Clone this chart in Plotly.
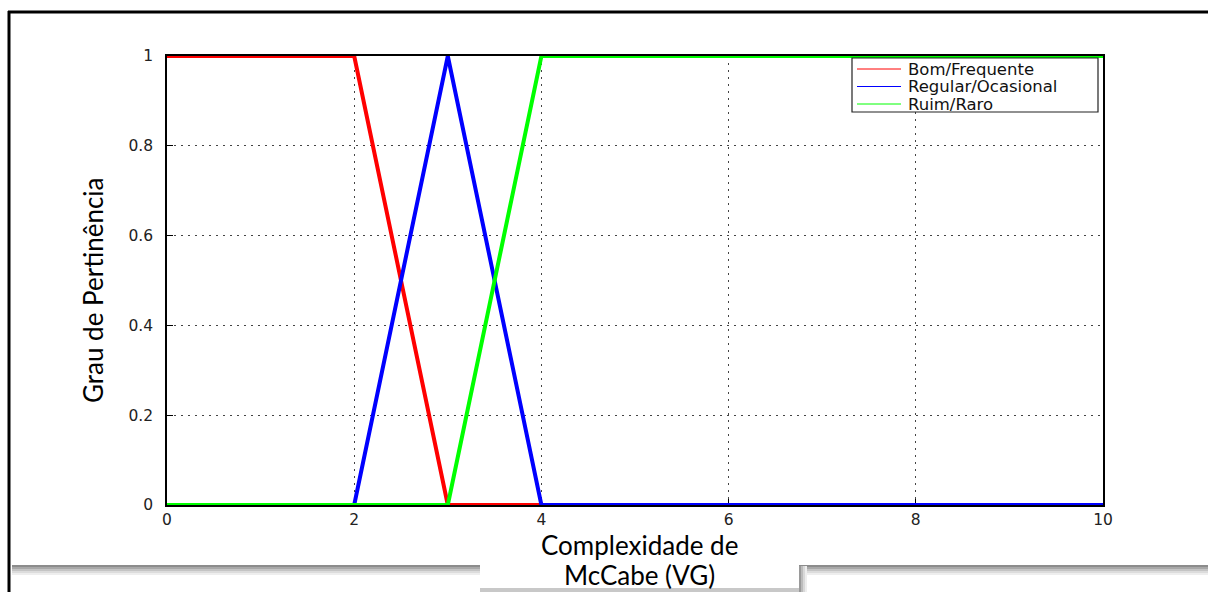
import plotly.graph_objects as go

# Membership functions for McCabe cyclomatic complexity
series_names = ["Bom/Frequente", "Regular/Ocasional", "Ruim/Raro"]
series_colors = ["#ff0000", "#0000ff", "#00ff00"]
bom_x = [0, 2, 3, 10]
bom_y = [1, 1, 0, 0]
regular_x = [0, 2, 3, 4, 10]
regular_y = [0, 0, 1, 0, 0]
ruim_x = [0, 3, 4, 10]
ruim_y = [0, 0, 1, 1]

x_ticks = [0, 2, 4, 6, 8, 10]
y_ticks = [0, 0.2, 0.4, 0.6, 0.8, 1]
y_tick_text = ["0", "0.2", "0.4", "0.6", "0.8", "1"]

W, H = 1208, 592
L, R, T, B = 167, 1103, 56, 505  # plot area in pixels


def px(xp):
    return (xp - L) / (R - L)


def py(yp):
    return (B - yp) / (B - T)


fig = go.Figure()
for name, xs, ys, col in zip(series_names, [bom_x, regular_x, ruim_x],
                             [bom_y, regular_y, ruim_y], series_colors):
    fig.add_trace(go.Scatter(x=xs, y=ys, mode="lines", name=name,
                             line=dict(color=col, width=4),
                             cliponaxis=False, showlegend=False))

shapes = []
annotations = []

# legend box
lx0, ly0, lx1, ly1 = 852, 58, 1098, 112
shapes.append(dict(type="rect", xref="paper", yref="paper",
                   x0=px(lx0), x1=px(lx1), y0=py(ly1), y1=py(ly0),
                   line=dict(color="#222", width=1.2), fillcolor="white"))
for i, (name, col) in enumerate(zip(series_names, series_colors)):
    yy = 69 + i * 17.5
    shapes.append(dict(type="line", xref="paper", yref="paper",
                       x0=px(857), x1=px(901), y0=py(yy), y1=py(yy),
                       line=dict(color=col, width=1)))
    annotations.append(dict(xref="paper", yref="paper", x=px(906), y=py(yy),
                            text=name, showarrow=False, xanchor="left",
                            yanchor="middle",
                            font=dict(family="DejaVu Sans", size=16.5,
                                      color="#111")))

# shadow band at the bottom
band = [(565, 567, "#8c8c8c"), (567, 569, "#a8a8a8"), (569, 571, "#c4c4c4"),
        (571, 573, "#dcdcdc"), (573, 575, "#eeeeee")]
for y0, y1, c in band:
    shapes.append(dict(type="rect", xref="paper", yref="paper",
                       x0=px(12), x1=px(W), y0=py(y1), y1=py(y0),
                       line=dict(width=0), fillcolor=c, layer="above"))
# white box behind second title line, with its own shadow
for x0, x1, c in [(799, 801, "#9a9a9a"), (801, 803, "#bcbcbc"),
                  (803, 805, "#d8d8d8"), (805, 807, "#eeeeee")]:
    shapes.append(dict(type="rect", xref="paper", yref="paper",
                       x0=px(x0), x1=px(x1), y0=py(W), y1=py(566),
                       line=dict(width=0), fillcolor=c, layer="above"))
shapes.append(dict(type="rect", xref="paper", yref="paper",
                   x0=px(480), x1=px(799), y0=py(588), y1=py(565),
                   line=dict(width=0), fillcolor="white", layer="above"))
shapes.append(dict(type="rect", xref="paper", yref="paper",
                   x0=px(480), x1=px(799), y0=py(592), y1=py(588),
                   line=dict(width=0), fillcolor="#c8c8c8", layer="above"))

# outer frame (left and top edges)
shapes.append(dict(type="line", xref="paper", yref="paper",
                   x0=px(9), x1=px(9), y0=py(11), y1=py(600),
                   line=dict(color="black", width=3), layer="above"))
shapes.append(dict(type="line", xref="paper", yref="paper",
                   x0=px(8), x1=px(1220), y0=py(12), y1=py(12),
                   line=dict(color="black", width=3), layer="above"))

# axis titles
title_font = dict(family="Lato", size=26, color="black")
annotations.append(dict(xref="paper", yref="paper", x=px(93), y=py(290),
                        text="Grau de Pertinência", textangle=-90,
                        showarrow=False, xanchor="center", yanchor="middle",
                        font=title_font))
annotations.append(dict(xref="paper", yref="paper", x=px(639), y=py(545),
                        text="Complexidade de", showarrow=False,
                        xanchor="center", yanchor="middle", font=title_font))
annotations.append(dict(xref="paper", yref="paper", x=px(639), y=py(575),
                        text="McCabe (VG)", showarrow=False,
                        xanchor="center", yanchor="middle", font=title_font))

tick_font = dict(family="DejaVu Sans", size=15.5, color="#222")
axis_common = dict(showline=True, mirror=True, linecolor="black",
                   linewidth=1.5, ticks="inside", ticklen=6,
                   tickcolor="black", showgrid=True, gridcolor="#444",
                   gridwidth=1, griddash="2px,5px", zeroline=False,
                   layer="below traces", tickfont=tick_font)

fig.update_layout(
    width=W, height=H,
    margin=dict(l=L, r=W - R, t=T, b=H - B),
    paper_bgcolor="white", plot_bgcolor="white",
    showlegend=False,
    xaxis=dict(range=[0, 10], tickvals=x_ticks, ticklabelstandoff=0,
               **axis_common),
    yaxis=dict(range=[0, 1], tickvals=y_ticks, ticktext=y_tick_text,
               ticklabelstandoff=9, **axis_common),
    shapes=shapes,
    annotations=annotations,
)

fig.write_html("out.html")
